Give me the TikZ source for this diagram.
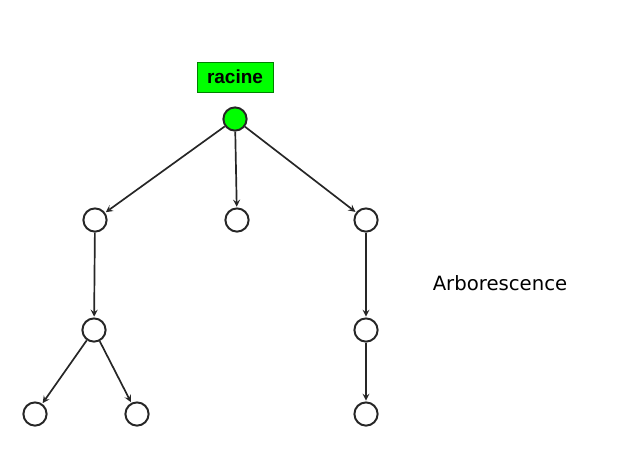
\documentclass[tikz,border=0pt]{standalone}
\usepackage{fontspec}
\setmainfont{DejaVu Sans}
\newfontfamily\labelfont{Liberation Sans}
\usetikzlibrary{arrows}
\tikzset{vertex/.style={circle, draw=black!85, line width=1.4pt, fill=white, minimum size=0.58cm, inner sep=0pt},
    edge/.style={draw=black!85, line width=1.2pt, -stealth, shorten >=0.5pt},
}

\begin{document}
\begin{tikzpicture}[x=0.025cm, y=-0.025cm]
                    \useasboundingbox (0,0) rectangle (636,469);
                    %Root and its label:
                    \node[draw=black!50!green, fill=green, minimum width=1.9cm, minimum height=0.75cm, inner sep=0pt,
                          font=\labelfont\bfseries\fontsize{13.5}{15}\selectfont] (label) at (235,77) {racine};
                    \node[vertex, fill=green] (r) at (235,119) {};
                    %First level:
                    \node[vertex] (a) at (95,220) {};
                    \node[vertex] (b) at (237,220) {};
                    \node[vertex] (c) at (366,220) {};
                    %Second level:
                    \node[vertex] (a1) at (94,330) {};
                    \node[vertex] (c1) at (366,330) {};
                    %Leaves:
                    \node[vertex] (a11) at (35,414) {};
                    \node[vertex] (a12) at (137,414) {};
                    \node[vertex] (c11) at (366,414) {};
                    %Arcs:
                        \draw[edge] (r) -- (a);
                        \draw[edge] (r) -- (b);
                        \draw[edge] (r) -- (c);
                        \draw[edge] (a) -- (a1);
                        \draw[edge] (c) -- (c1);
                        \draw[edge] (a1) -- (a11);
                        \draw[edge] (a1) -- (a12);
                        \draw[edge] (c1) -- (c11);
                    %Title:
                    \node[font=\fontsize{14}{16}\selectfont, inner sep=0pt] (title) at (500,283) {Arborescence};
                \end{tikzpicture}
\end{document}
